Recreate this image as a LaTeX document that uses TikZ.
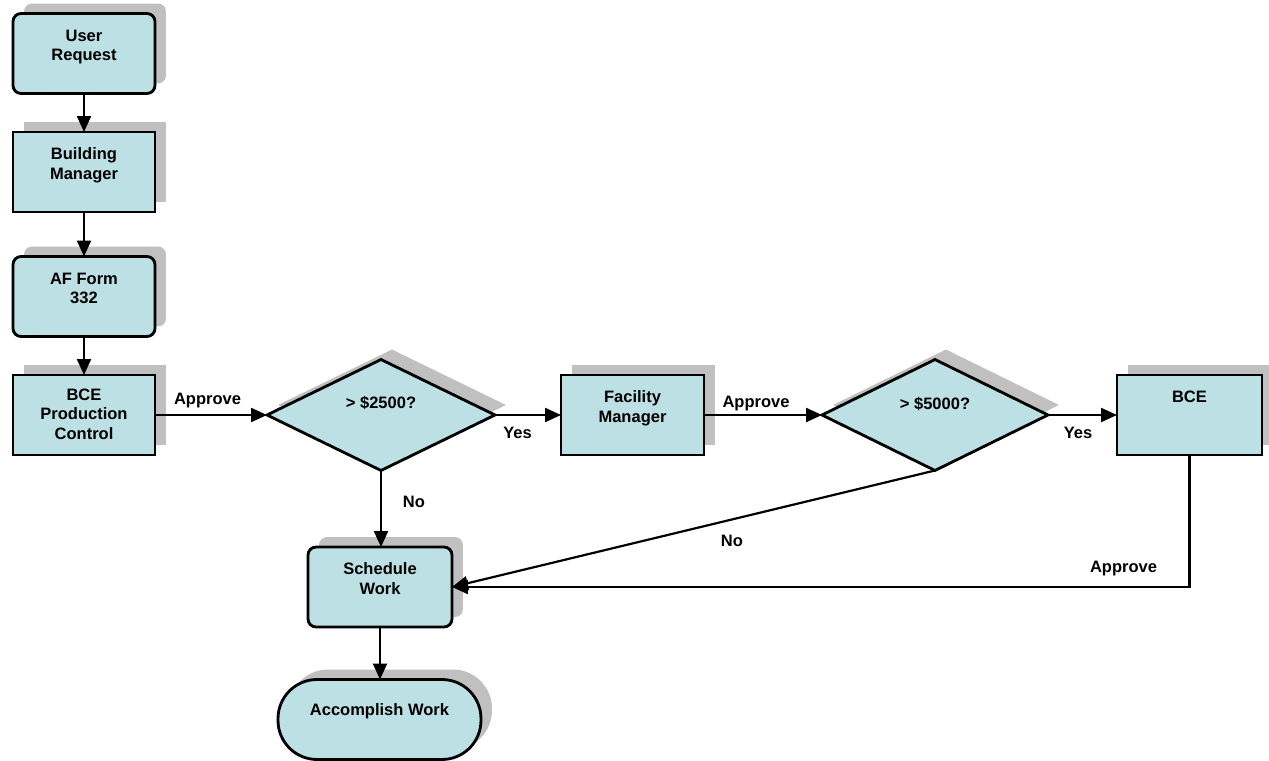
\documentclass[tikz,border=0pt]{standalone}
\usepackage{fontspec}
\setmainfont{Liberation Sans}
\usetikzlibrary{shapes.geometric,arrows.meta,shadows}
\definecolor{boxfill}{RGB}{188,224,228}
\definecolor{shadowgray}{RGB}{192,192,192}
\newcommand\boxfont{\fontsize{9.4}{11.3}\selectfont\bfseries}
\newcommand\boxtxt[3][0.55cm]{\parbox[c][1.6cm][t]{#2}{\centering\rule{0pt}{#1}#3\par}}
\tikzset{
  shad/.style={drop shadow={shadow xshift=0.22cm, shadow yshift=0.2cm, fill=shadowgray, opacity=1, shadow scale=1}},
  proc/.style={draw, line width=1.6pt, fill=boxfill, inner sep=0pt, outer sep=0pt, font=\boxfont, shad},
  rproc/.style={proc, rounded corners=0.16cm},
  term/.style={proc, rounded corners=0.78cm},
  dec/.style={diamond, draw, line width=1.6pt, fill=boxfill, inner sep=0pt, outer sep=0pt, shad},
  conn/.style={line width=1.25pt, -{Triangle[length=0.32cm,width=0.28cm]}},
  lbl/.style={font=\boxfont, inner sep=0pt, anchor=base},
}
\begin{document}
\begin{tikzpicture}[x=0.02cm, y=-0.02cm]
\useasboundingbox (0,0) rectangle (1269,761);
% boxes
\node[rproc] (ur) at (84,53.5) {\boxtxt{2.84cm}{User\\Request}};
\node[proc] (bm) at (84,172) {\boxtxt{2.84cm}{Building\\Manager}};
\node[rproc] (af) at (84,296.5) {\boxtxt{2.84cm}{AF Form\\332}};
\node[proc] (pc) at (84,415) {\boxtxt[0.5cm]{2.84cm}{BCE\\Production\\Control}};
\node[dec, minimum width=4.56cm, minimum height=2.22cm] (d1) at (381,415) {};
\node[proc] (fm) at (632.5,415) {\boxtxt{2.86cm}{Facility\\Manager}};
\node[dec, minimum width=4.52cm, minimum height=2.22cm] (d2) at (935,415) {};
\node[proc] (bce) at (1189.5,415) {\boxtxt{2.9cm}{BCE}};
\node[rproc] (sw) at (380,587) {\boxtxt{2.88cm}{Schedule\\Work}};
\node[term] (acc) at (379.5,719.5) {\boxtxt[0.72cm]{4.06cm}{Accomplish Work}};
% diamond texts
\node[lbl] (d1t) at (381,408) {> \$2500?};
\node[lbl] (d2t) at (935,409) {> \$5000?};
% connectors
\draw[conn] (ur.south) -- (bm.north);
\draw[conn] (bm.south) -- (af.north);
\draw[conn] (af.south) -- (pc.north);
\draw[conn] (pc.east) -- (d1.west);
\draw[conn] (d1.east) -- (fm.west);
\draw[conn] (fm.east) -- (d2.west);
\draw[conn] (d2.east) -- (bce.west);
\draw[conn] (d1.south) -- (d1.south |- sw.north);
\draw[conn] (d2.south) -- (sw.east);
\draw[conn] (bce.south) |- (sw.east);
\draw[conn] (sw.south) -- (sw.south |- acc.north);
% labels
\node[lbl] (a1) at (207.5,404) {Approve};
\node[lbl] (y1) at (517.5,438) {Yes};
\node[lbl] (n1) at (414,507) {No};
\node[lbl] (a2) at (756,407) {Approve};
\node[lbl] (y2) at (1078,438) {Yes};
\node[lbl] (n2) at (732,546) {No};
\node[lbl] (a3) at (1123.5,572) {Approve};
\end{tikzpicture}
\end{document}
